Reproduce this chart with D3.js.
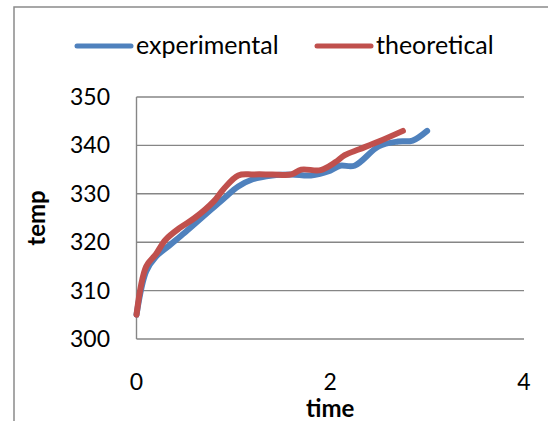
<!DOCTYPE html>
<html>
<head>
  <meta charset="utf-8">
  <script src="https://d3js.org/d3.v7.min.js"></script>
  <style>
    body { margin: 0; background: #fff; }
    svg text { font-family: Lato, "Open Sans", sans-serif; fill: #000; }
  </style>
</head>
<body>
<div id="chart"></div>
<script>
// values (time, temp)
var seriesNames = ["experimental", "theoretical"];
var seriesColors = ["#4F81BD", "#C0504D"];
var expTime = [0, 0.1, 0.2, 0.35, 0.5, 0.7, 0.9, 1.05, 1.2, 1.4, 1.6, 1.8, 2.0, 2.1, 2.25, 2.5, 2.7, 2.85, 3.0];
var expTemp = [305, 314, 317, 319.5, 322, 325.5, 329, 331.5, 333, 333.8, 334, 333.8, 334.8, 335.8, 335.8, 339.8, 340.8, 341, 343];
var theoTime = [0, 0.1, 0.2, 0.3, 0.45, 0.6, 0.8, 0.9, 1.05, 1.2, 1.4, 1.6, 1.7, 1.9, 2.05, 2.15, 2.3, 2.5, 2.75];
var theoTemp = [305, 315, 317.5, 320.5, 323, 325, 328.5, 331, 333.8, 334, 334, 334, 335, 334.9, 336.5, 338, 339.2, 340.8, 343];
var xTicks = [0, 2, 4];
var yTicks = [300, 310, 320, 330, 340, 350];

var width = 548, height = 421;
var svg = d3.select("#chart").append("svg")
  .attr("width", width).attr("height", height);

// chart frame (clipped by the picture on right and bottom)
svg.append("rect")
  .attr("x", 14).attr("y", 7)
  .attr("width", 600).attr("height", 500)
  .attr("fill", "none").attr("stroke", "#8a8a8a").attr("stroke-width", 1.5);

var plot = { left: 136.5, right: 524, top: 97, bottom: 339 };
var x = d3.scaleLinear().domain([0, 4]).range([plot.left, plot.right]);
var y = d3.scaleLinear().domain([300, 350]).range([plot.bottom, plot.top]);

// gridlines
svg.append("g").selectAll("line").data(yTicks).join("line")
  .attr("x1", plot.left).attr("x2", plot.right)
  .attr("y1", function(d){ return y(d); }).attr("y2", function(d){ return y(d); })
  .attr("stroke", "#868686").attr("stroke-width", 1.4);

// left axis line
svg.append("line")
  .attr("x1", plot.left).attr("x2", plot.left)
  .attr("y1", plot.top).attr("y2", plot.bottom)
  .attr("stroke", "#868686").attr("stroke-width", 1.4);

// y tick labels
svg.append("g").selectAll("text").data(yTicks).join("text")
  .attr("x", 110).attr("y", function(d){ return y(d) + 8; })
  .attr("text-anchor", "end").style("font-size", "23px")
  .text(function(d){ return d; });

// x tick labels
svg.append("g").selectAll("text").data(xTicks).join("text")
  .attr("x", function(d){ return x(d); }).attr("y", 390)
  .attr("text-anchor", "middle").style("font-size", "23px")
  .text(function(d){ return d; });

// axis titles
svg.append("text")
  .attr("x", x(2)).attr("y", 417)
  .attr("text-anchor", "middle").style("font-size", "24px").style("font-weight", "bold")
  .text("time");
svg.append("text")
  .attr("transform", "translate(45,218) rotate(-90)")
  .attr("text-anchor", "middle").style("font-size", "24px").style("font-weight", "bold")
  .text("temp");

// series lines
var line = d3.line()
  .x(function(d){ return x(d[0]); })
  .y(function(d){ return y(d[1]); })
  .curve(d3.curveCatmullRom.alpha(0.5));

var series = [d3.zip(expTime, expTemp), d3.zip(theoTime, theoTemp)];
svg.append("g").selectAll("path").data(series).join("path")
  .attr("d", line)
  .attr("fill", "none")
  .attr("stroke", function(d, i){ return seriesColors[i]; })
  .attr("stroke-width", 6)
  .attr("stroke-linecap", "round")
  .attr("stroke-linejoin", "round");

// legend
var legendX = [77, 317];
var legend = svg.append("g").selectAll("g").data(seriesNames).join("g")
  .attr("transform", function(d, i){ return "translate(" + legendX[i] + ",46)"; });
legend.append("line")
  .attr("x1", 0).attr("x2", 54)
  .attr("stroke", function(d, i){ return seriesColors[i]; })
  .attr("stroke-width", 5).attr("stroke-linecap", "round");
legend.append("text")
  .attr("x", 59).attr("y", 8)
  .style("font-size", "25px")
  .text(function(d){ return d; });
</script>
</body>
</html>
